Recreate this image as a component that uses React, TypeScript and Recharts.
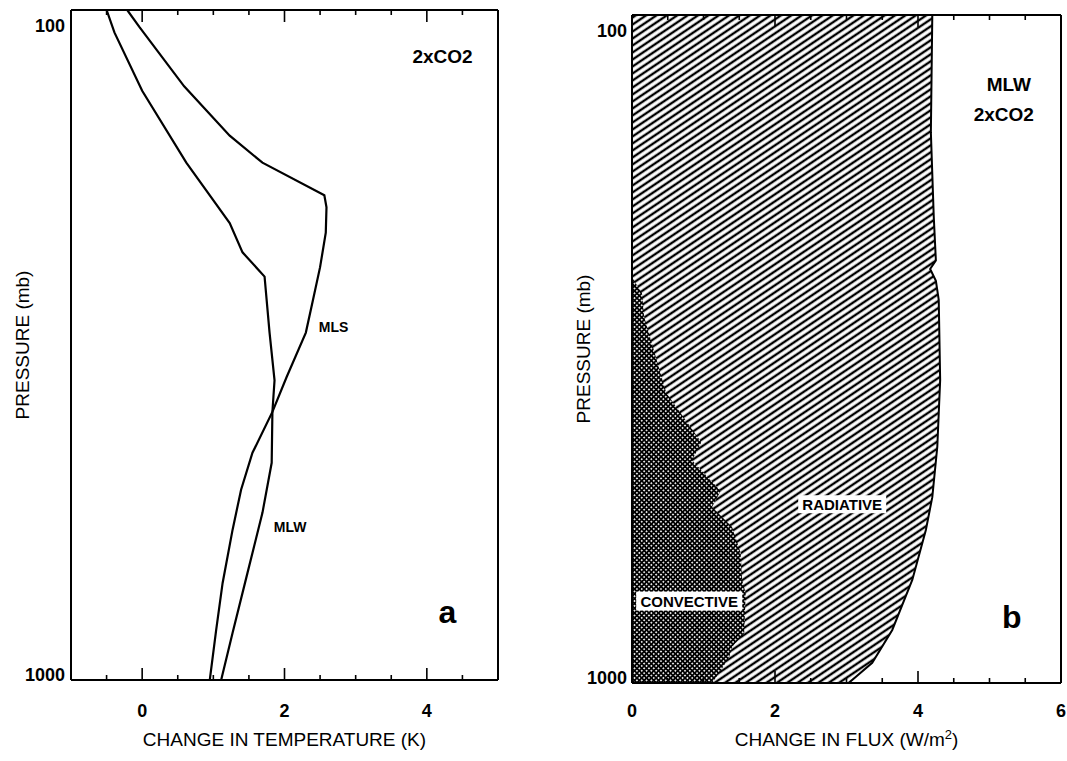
import React from 'react';
import { LineChart, ComposedChart, Line, Area, XAxis, YAxis, ReferenceDot } from 'recharts';

const FONT = '"Liberation Sans", Arial, Helvetica, sans-serif';

// Panel a: temperature change (K) vs pressure (mb)
const mlsP = [100, 106, 130, 154, 169, 189, 197, 215, 242, 271, 303, 353, 398, 458, 520, 597, 717, 842, 1000];
const mlsT = [-0.21, -0.04, 0.59, 1.23, 1.69, 2.56, 2.59, 2.58, 2.5, 2.4, 2.3, 2.03, 1.83, 1.55, 1.39, 1.27, 1.13, 1.04, 0.95];
const mlwP = [100, 108, 132, 169, 208, 230, 250, 303, 357, 398, 474, 563, 692, 851, 1000];
const mlwT = [-0.5, -0.39, 0.0, 0.62, 1.23, 1.41, 1.72, 1.79, 1.86, 1.83, 1.82, 1.69, 1.48, 1.27, 1.11];

// Panel b: flux change (W/m2) vs pressure (mb)
const radP = [100, 150, 200, 233, 240, 250, 267, 352, 443, 527, 590, 701, 833, 933, 1000];
const radF = [4.2, 4.18, 4.22, 4.25, 4.17, 4.25, 4.29, 4.31, 4.27, 4.2, 4.11, 3.92, 3.64, 3.36, 3.03];
const convP = [247, 261, 283, 368, 436, 464, 516, 545, 584, 639, 701, 733, 842, 883, 914, 966, 1000];
const convF = [0, 0.14, 0.17, 0.48, 0.97, 0.84, 1.24, 1.12, 1.4, 1.52, 1.54, 1.59, 1.57, 1.4, 1.36, 1.22, 1.12];

const tDomain = [-1, 5];
const tMajor = [0, 2, 4];
const tMinor = [-0.5, 0.5, 1, 1.5, 2.5, 3, 3.5, 4.5];
const fDomain = [0, 6];
const fMajor = [0, 2, 4, 6];
const fMinor = [0.5, 1, 1.5, 2.5, 3, 3.5, 4.5, 5, 5.5];
const pDomain = [100, 1000];
const pLabels = [100, 1000];
const pMinor = [200, 300, 400, 500, 600, 700, 800, 900];

const mls = mlsP.map((p, i) => ({ p, t: mlsT[i] }));
const mlw = mlwP.map((p, i) => ({ p, t: mlwT[i] }));
const rad = radP.map((p, i) => ({ p, f: radF[i] }));
const conv = convP.map((p, i) => ({ p, f: convF[i] }));

const BLACK = '#000';
const axisLine = { stroke: BLACK, strokeWidth: 2 };
const tickLine = { stroke: BLACK, strokeWidth: 1.6 };

const NoTick = () => <g />;

const YTick = (props: any) => {
  const { x, y, payload } = props;
  const dy = payload.value === 100 ? 16 : -5;
  return (
    <text x={x} y={y + dy} textAnchor="end" dominantBaseline="central" fontFamily={FONT} fontWeight="bold" fontSize={18} fill={BLACK}>
      {payload.value}
    </text>
  );
};

const yTitle = (dx: number) => (props: any) => {
  const vb = props.viewBox || {};
  const cx = vb.x + dx;
  const cy = vb.y + vb.height / 2;
  return (
    <text x={cx} y={cy} transform={`rotate(-90 ${cx} ${cy})`} textAnchor="middle" dominantBaseline="central" fontFamily={FONT} fontSize={19} fill={BLACK}>
      PRESSURE (mb)
    </text>
  );
};

const xTitle = (text: React.ReactNode, off: number) => (props: any) => {
  const vb = props.viewBox || {};
  return (
    <text x={vb.x + vb.width / 2} y={vb.y + vb.height - off} textAnchor="middle" fontFamily={FONT} fontSize={19} fill={BLACK}>
      {text}
    </text>
  );
};

const ann = (text: string, size: number, weight: string, box?: { w: number; h: number }) => (props: any) => {
  const { cx, cy } = props;
  return (
    <g>
      {box && <rect x={cx - box.w / 2} y={cy - box.h / 2} width={box.w} height={box.h} fill="#fff" />}
      <text x={cx} y={cy} textAnchor="middle" dominantBaseline="central" fontFamily={FONT} fontWeight={weight} fontSize={size} fill={BLACK}>
        {text}
      </text>
    </g>
  );
};

const xTickStyle = { fontFamily: FONT, fontWeight: 'bold', fontSize: 18, fill: BLACK };

function PanelA() {
  return (
    <LineChart width={560} height={761} layout="vertical" margin={{ top: 10, right: 62, bottom: 0, left: 0 }}>
      <XAxis xAxisId="t" type="number" domain={tDomain} allowDataOverflow ticks={tMajor} orientation="bottom" height={81}
        tickLine={false} tickSize={0} tickMargin={24} axisLine={axisLine} tick={xTickStyle}
        label={xTitle('CHANGE IN TEMPERATURE (K)', 15)} />
      <XAxis xAxisId="bm1" type="number" domain={tDomain} allowDataOverflow ticks={tMinor} interval={0} orientation="bottom" mirror height={1} tick={<NoTick />} tickSize={5} axisLine={false} tickLine={tickLine} />
      <XAxis xAxisId="bm2" type="number" domain={tDomain} allowDataOverflow ticks={tMajor} interval={0} orientation="bottom" mirror height={1} tick={<NoTick />} tickSize={11} axisLine={false} tickLine={tickLine} />
      <XAxis xAxisId="tm1" type="number" domain={tDomain} allowDataOverflow ticks={tMinor} interval={0} orientation="top" mirror height={1} tick={<NoTick />} tickSize={5} axisLine={axisLine} tickLine={tickLine} />
      <XAxis xAxisId="tm2" type="number" domain={tDomain} allowDataOverflow ticks={tMajor} interval={0} orientation="top" mirror height={1} tick={<NoTick />} tickSize={11} axisLine={false} tickLine={tickLine} />
      <YAxis yAxisId="p" type="number" dataKey="p" scale="log" domain={pDomain} allowDataOverflow ticks={pLabels} width={71}
        tickLine={false} tickSize={0} tickMargin={6} axisLine={axisLine} tick={<YTick />} label={yTitle(22)} />
      <YAxis yAxisId="lm" type="number" scale="log" domain={pDomain} allowDataOverflow ticks={pMinor} interval={0} orientation="left" mirror width={1} tick={<NoTick />} tickSize={5} axisLine={false} tickLine={tickLine} />
      <YAxis yAxisId="rm" type="number" scale="log" domain={pDomain} allowDataOverflow ticks={pMinor} interval={0} orientation="right" mirror width={1} tick={<NoTick />} tickSize={5} axisLine={axisLine} tickLine={tickLine} />
      <Line xAxisId="t" yAxisId="p" data={mls} dataKey="t" type="linear" stroke={BLACK} strokeWidth={2.2} dot={false} isAnimationActive={false} />
      <Line xAxisId="t" yAxisId="p" data={mlw} dataKey="t" type="linear" stroke={BLACK} strokeWidth={2.2} dot={false} isAnimationActive={false} />
      <ReferenceDot xAxisId="t" yAxisId="p" x={4.22} y={117.5} r={0} shape={ann('2xCO2', 19, 'bold')} />
      <ReferenceDot xAxisId="t" yAxisId="p" x={2.69} y={297} r={0} shape={ann('MLS', 14, 'bold')} />
      <ReferenceDot xAxisId="t" yAxisId="p" x={2.08} y={591} r={0} shape={ann('MLW', 14, 'bold')} />
      <ReferenceDot xAxisId="t" yAxisId="p" x={4.29} y={792} r={0} shape={ann('a', 32, 'bold')} />
    </LineChart>
  );
}

function PanelB() {
  return (
    <ComposedChart width={507} height={761} layout="vertical" margin={{ top: 15, right: 6, bottom: 0, left: 0 }}>
      <defs>
        <pattern id="hatchRad" patternUnits="userSpaceOnUse" width="10" height="5.8" patternTransform="rotate(-34)">
          <rect width="10" height="5.8" fill="#fff" />
          <line x1="0" y1="2.9" x2="10" y2="2.9" stroke={BLACK} strokeWidth="2.4" />
        </pattern>
        <pattern id="crossConv" patternUnits="userSpaceOnUse" width="3.4" height="3.4" patternTransform="rotate(45)">
          <rect width="3.4" height="3.4" fill={BLACK} />
          <rect x="0.9" y="0.9" width="1.6" height="1.6" fill="#fff" />
        </pattern>
      </defs>
      <XAxis xAxisId="f" type="number" domain={fDomain} allowDataOverflow ticks={fMajor} orientation="bottom" height={78}
        tickLine={false} tickSize={0} tickMargin={21} axisLine={axisLine} tick={xTickStyle}
        label={xTitle(<>CHANGE IN FLUX (W/m<tspan dy={-7} fontSize={13}>2</tspan><tspan dy={7}>)</tspan></>, 15)} />
      <XAxis xAxisId="bm1" type="number" domain={fDomain} allowDataOverflow ticks={fMinor} interval={0} orientation="bottom" mirror height={1} tick={<NoTick />} tickSize={5} axisLine={false} tickLine={tickLine} />
      <XAxis xAxisId="bm2" type="number" domain={fDomain} allowDataOverflow ticks={fMajor} interval={0} orientation="bottom" mirror height={1} tick={<NoTick />} tickSize={11} axisLine={false} tickLine={tickLine} />
      <XAxis xAxisId="tm1" type="number" domain={fDomain} allowDataOverflow ticks={fMinor} interval={0} orientation="top" mirror height={1} tick={<NoTick />} tickSize={5} axisLine={axisLine} tickLine={tickLine} />
      <XAxis xAxisId="tm2" type="number" domain={fDomain} allowDataOverflow ticks={fMajor} interval={0} orientation="top" mirror height={1} tick={<NoTick />} tickSize={11} axisLine={false} tickLine={tickLine} />
      <YAxis yAxisId="p" type="number" dataKey="p" scale="log" domain={pDomain} allowDataOverflow ticks={pLabels} width={72}
        tickLine={false} tickSize={0} tickMargin={5} axisLine={axisLine} tick={<YTick />} label={yTitle(23)} />
      <YAxis yAxisId="rm" type="number" scale="log" domain={pDomain} allowDataOverflow ticks={pMinor} interval={0} orientation="right" mirror width={1} tick={<NoTick />} tickSize={5} axisLine={axisLine} tickLine={tickLine} />
      <Area xAxisId="f" yAxisId="p" data={rad} dataKey="f" type="linear" stroke={BLACK} strokeWidth={2} fill="url(#hatchRad)" fillOpacity={1} dot={false} isAnimationActive={false} />
      <Area xAxisId="f" yAxisId="p" data={conv} dataKey="f" type="linear" stroke="none" fill="url(#crossConv)" fillOpacity={1} dot={false} isAnimationActive={false} />
      <ReferenceDot xAxisId="f" yAxisId="p" x={5.27} y={127} r={0} shape={ann('MLW', 19, 'bold')} />
      <ReferenceDot xAxisId="f" yAxisId="p" x={5.2} y={141} r={0} shape={ann('2xCO2', 19, 'bold')} />
      <ReferenceDot xAxisId="f" yAxisId="p" x={2.94} y={540} r={0} shape={ann('RADIATIVE', 15, 'bold', { w: 88, h: 18 })} />
      <ReferenceDot xAxisId="f" yAxisId="p" x={0.8} y={754} r={0} shape={ann('CONVECTIVE', 15, 'bold', { w: 106, h: 19 })} />
      <ReferenceDot xAxisId="f" yAxisId="p" x={5.31} y={796} r={0} shape={ann('b', 32, 'bold')} />
    </ComposedChart>
  );
}

export default function App() {
  return (
    <div style={{ position: 'absolute', left: 0, top: 0, width: 1067, height: 761, background: '#fff' }}>
      <div style={{ position: 'absolute', left: 0, top: 0 }}>
        <PanelA />
      </div>
      <div style={{ position: 'absolute', left: 560, top: 0 }}>
        <PanelB />
      </div>
    </div>
  );
}
